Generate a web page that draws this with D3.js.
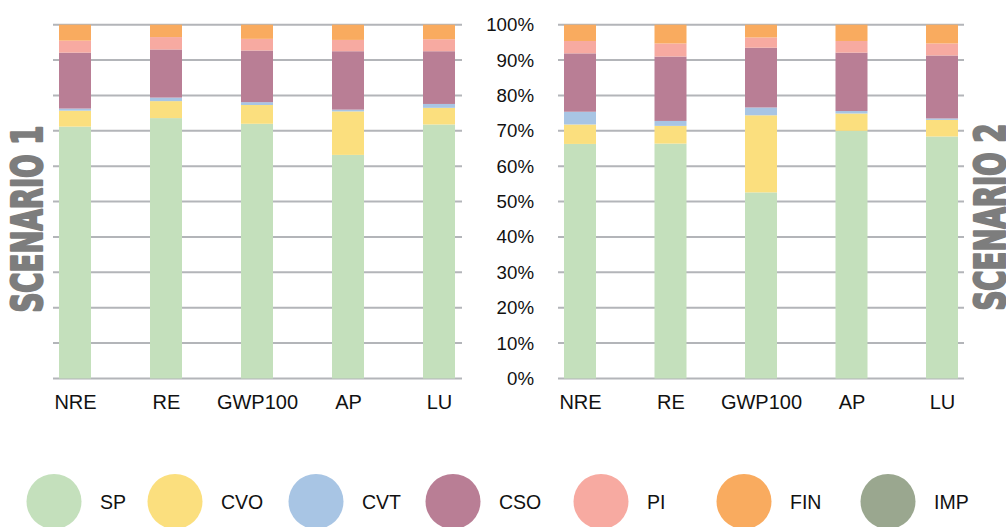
<!DOCTYPE html>
<html>
<head>
<meta charset="utf-8">
<script src="https://cdn.jsdelivr.net/npm/d3@7"></script>
<style>
  body { margin: 0; background: #fff; }
  svg { display: block; font-family: "Liberation Sans", Arial, sans-serif; }
</style>
</head>
<body>
<svg id="chart" width="1006" height="527"></svg>
<script>
// categories and series
const categories = ["NRE", "RE", "GWP100", "AP", "LU"];
const seriesNames = ["SP", "CVO", "CVT", "CSO", "PI", "FIN", "IMP"];
const seriesColors = ["#c4e0bc", "#fbdf7e", "#a8c5e4", "#b97e95", "#f7aaa1", "#f9ab5f", "#9aa78f"];
const yTicks = [0, 10, 20, 30, 40, 50, 60, 70, 80, 90, 100];

// scenario 1 (% share, per category)
const sp1  = [71.2, 73.6, 72.0, 63.2, 71.8];
const cvo1 = [4.5, 4.8, 5.3, 12.3, 4.7];
const cvt1 = [0.6, 1.0, 0.8, 0.5, 1.1];
const cso1 = [15.8, 13.6, 14.6, 16.5, 14.9];
const pi1  = [3.4, 3.5, 3.3, 3.2, 3.4];
const fin1 = [4.5, 3.5, 4.0, 4.3, 4.1];
const imp1 = [0, 0, 0, 0, 0];

// scenario 2
const sp2  = [66.3, 66.4, 52.6, 70.0, 68.4];
const cvo2 = [5.5, 5.0, 21.8, 4.9, 4.7];
const cvt2 = [3.6, 1.4, 2.2, 0.7, 0.4];
const cso2 = [16.5, 18.2, 16.9, 16.5, 17.8];
const pi2  = [3.5, 3.7, 2.9, 3.3, 3.4];
const fin2 = [4.6, 5.3, 3.6, 4.6, 5.3];
const imp2 = [0, 0, 0, 0, 0];

const toRows = (cols) => categories.map((c, i) => {
    const row = { cat: c };
    seriesNames.forEach((s, j) => { row[s] = cols[j][i]; });
    return row;
});

const svg = d3.select("#chart");
const gridColor = "#b3b5b9";
const barWidth = 32;

const y = d3.scaleLinear().domain([0, 100]).range([378.5, 24.7]);
const color = d3.scaleOrdinal().domain(seriesNames).range(seriesColors);
const stack = d3.stack().keys(seriesNames);

const drawPanel = (rows, gx0, gx1, c0, c1, showY, title, titleX, titleY) => {
    const x = d3.scalePoint().domain(categories).range([c0, c1]);
    const g = svg.append("g");

    // grid lines
    g.selectAll(".grid")
        .data(yTicks)
        .enter()
        .append("line")
        .attr("x1", gx0)
        .attr("x2", gx1)
        .attr("y1", d => y(d))
        .attr("y2", d => y(d))
        .attr("stroke", gridColor)
        .attr("stroke-width", 2);

    // stacked bars
    g.selectAll(".layer")
        .data(stack(rows))
        .enter()
        .append("g")
        .attr("fill", d => color(d.key))
        .selectAll("rect")
        .data(d => d)
        .enter()
        .append("rect")
        .attr("x", d => x(d.data.cat) - barWidth / 2)
        .attr("width", barWidth)
        .attr("y", d => y(d[1]))
        .attr("height", d => y(d[0]) - y(d[1]));

    // x labels
    const xAxis = d3.axisBottom(x).tickSize(0).tickPadding(0);
    const xg = g.append("g")
        .attr("transform", "translate(0,395)")
        .call(xAxis);
    xg.select(".domain").remove();
    xg.selectAll("text")
        .attr("dy", "0.71em")
        .style("font-size", "20px")
        .style("font-family", "'Liberation Sans', Arial, sans-serif")
        .attr("fill", "#111");

    if (showY) {
        const yAxis = d3.axisLeft(y).tickValues(yTicks).tickFormat(d => d + "%").tickSize(0).tickPadding(0);
        const yg = g.append("g")
            .attr("transform", `translate(${gx0 - 24},0)`)
            .call(yAxis);
        yg.select(".domain").remove();
        yg.selectAll("text")
            .style("font-size", "18.7px")
            .style("font-family", "'Liberation Sans', Arial, sans-serif")
            .attr("fill", "#111");
    }

    // scenario title, rotated (heavy condensed look)
    svg.append("text")
        .attr("transform", `translate(${titleX},${titleY}) rotate(-90)`)
        .attr("text-anchor", "middle")
        .attr("textLength", 187)
        .attr("lengthAdjust", "spacingAndGlyphs")
        .attr("fill", "#7d7d7d")
        .attr("stroke", "#7d7d7d")
        .attr("stroke-width", 2.2)
        .attr("stroke-linejoin", "round")
        .style("font-family", "'Liberation Sans Narrow', 'DejaVu Sans Condensed', sans-serif")
        .style("font-weight", "bold")
        .style("font-size", "42px")
        .text(title);
};

drawPanel(toRows([sp1, cvo1, cvt1, cso1, pi1, fin1, imp1]), 53, 462, 75, 439, false, "SCENARIO 1", 42, 219);
drawPanel(toRows([sp2, cvo2, cvt2, cso2, pi2, fin2, imp2]), 558, 964, 580, 942, true, "SCENARIO 2", 1005, 217);

// legend
const legendX = [54, 175, 316, 453, 601, 744, 888];
const legend = svg.append("g");
const items = legend.selectAll(".item")
    .data(seriesNames)
    .enter()
    .append("g")
    .attr("transform", (d, i) => `translate(${legendX[i]},501.5)`);
items.append("circle")
    .attr("r", 27.5)
    .attr("fill", d => color(d));
items.append("text")
    .attr("x", 46)
    .attr("dy", "0.36em")
    .style("font-size", "19.5px")
    .attr("fill", "#111")
    .text(d => d);
</script>
</body>
</html>
